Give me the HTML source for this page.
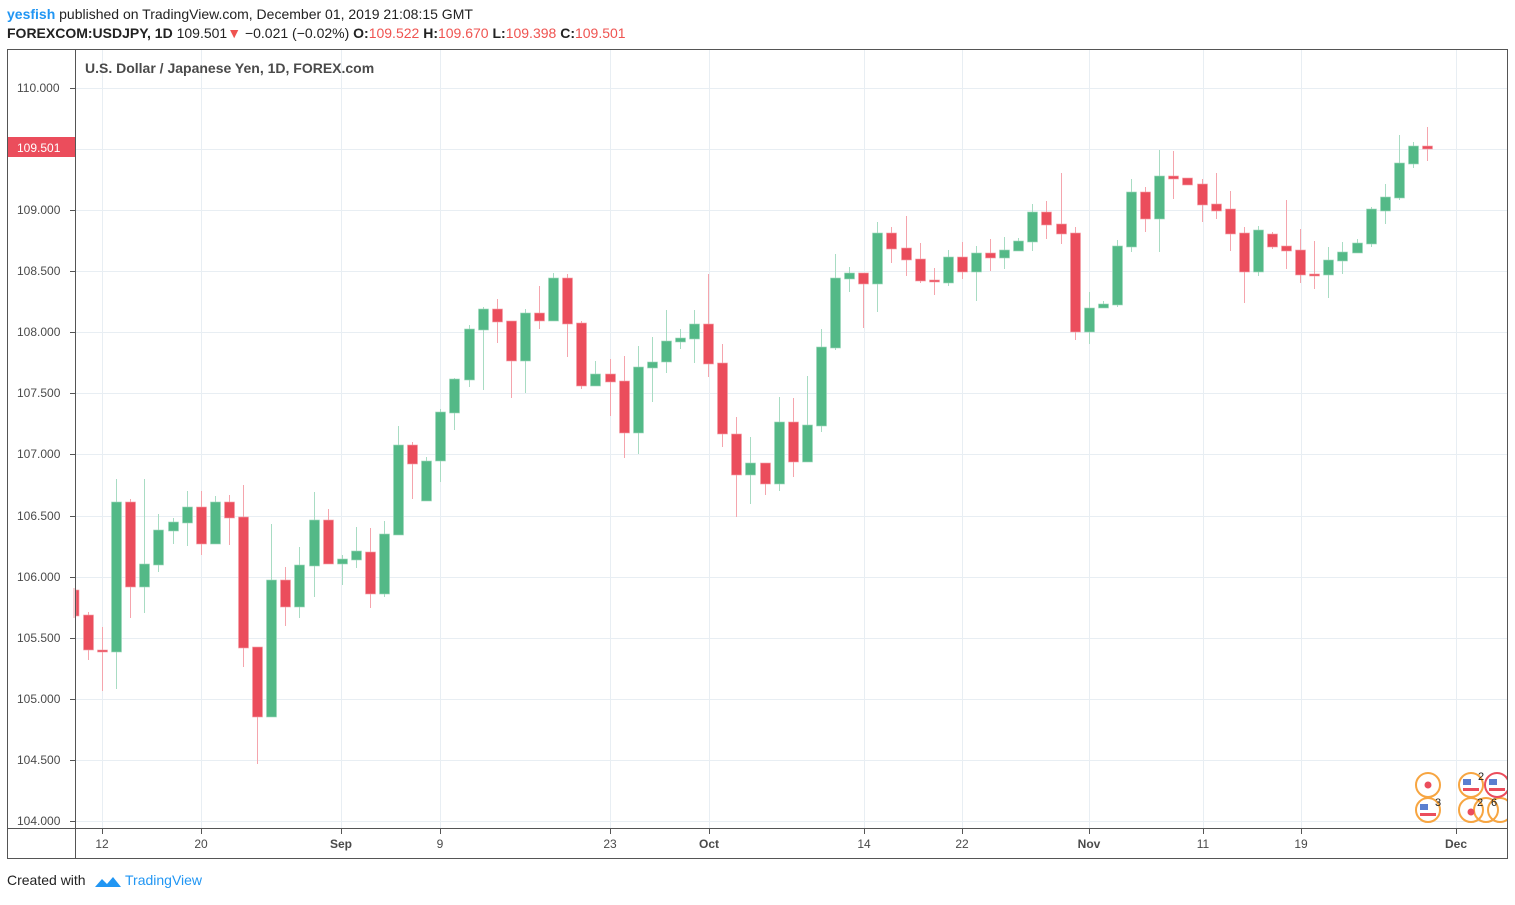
<!DOCTYPE html>
<html><head><meta charset="utf-8"><style>
body{margin:0;background:#fff;width:1515px;height:900px;overflow:hidden;font-family:"Liberation Sans",sans-serif}
</style></head><body>
<svg id="s" width="1515" height="900" xmlns="http://www.w3.org/2000/svg" font-family="Liberation Sans, sans-serif">
<defs><clipPath id="fr"><rect x="8" y="50" width="1499" height="778"/></clipPath></defs>
<rect width="1515" height="900" fill="#fff"/>
<text x="7" y="19" font-size="14" fill="#222"><tspan fill="#2196f3" font-weight="bold">yesfish</tspan> published on TradingView.com, December 01, 2019 21:08:15 GMT</text>
<text x="7" y="38" font-size="14" fill="#222"><tspan font-weight="bold">FOREXCOM:USDJPY, 1D</tspan>  109.501<tspan fill="#ef5350">▼</tspan> −0.021 (−0.02%) <tspan font-weight="bold">O:</tspan><tspan fill="#ef5350">109.522</tspan> <tspan font-weight="bold">H:</tspan><tspan fill="#ef5350">109.670</tspan> <tspan font-weight="bold">L:</tspan><tspan fill="#ef5350">109.398</tspan> <tspan font-weight="bold">C:</tspan><tspan fill="#ef5350">109.501</tspan></text>
<g id="grid" stroke="#e8eef3" stroke-width="1"></g>
<g id="c"></g>
<rect x="7.5" y="49.5" width="1500" height="809" fill="none" stroke="#555"/>
<line x1="75.5" y1="50" x2="75.5" y2="858" stroke="#555"/>
<line x1="8" y1="828.5" x2="1507" y2="828.5" stroke="#555"/>
<g id="ax" font-size="12" fill="#4a4a4a"></g>
<text x="85" y="73" font-size="14" font-weight="bold" fill="#4a4a4a">U.S. Dollar / Japanese Yen, 1D, FOREX.com</text>
<rect x="8" y="137" width="67" height="20" fill="#eb4d5c"/>
<text x="17" y="152" font-size="12" fill="#fff">109.501</text>
<g clip-path="url(#fr)">
<g fill="none" stroke="#f7a541" stroke-width="2">
<circle cx="1428" cy="785" r="12"/><circle cx="1428" cy="810" r="12"/>
<circle cx="1471" cy="785" r="12"/><circle cx="1471" cy="810" r="12"/>
<circle cx="1486" cy="810" r="12"/><circle cx="1500" cy="810" r="12"/>
<circle cx="1497" cy="785" r="12" stroke="#eb4d5c"/>
</g>
<g fill="#eb4d5c"><circle cx="1428" cy="785" r="3.5"/><circle cx="1471" cy="812" r="3.5"/></g>
<g fill="#5b7fd0"><rect x="1420" y="804" width="8" height="6"/><rect x="1463" y="779" width="8" height="6"/><rect x="1489" y="779" width="8" height="6"/></g>
<g fill="#eb4d5c"><rect x="1420" y="813" width="16" height="3"/><rect x="1463" y="788" width="16" height="3"/><rect x="1489" y="788" width="16" height="3"/></g>
<g font-size="11" fill="#222"><text x="1435" y="806">3</text><text x="1478" y="780">2</text><text x="1477" y="806">2</text><text x="1491" y="806">6</text></g>
</g>
<text x="7" y="885" font-size="14" fill="#222">Created with</text>
<path d="M95 887 l7-8 l5 5 l6-7 l8 10 z" fill="#2196f3"/>
<text x="125" y="885" font-size="14" fill="#2196f3">TradingView</text>
</svg>
<script>
const NS="http://www.w3.org/2000/svg";
function el(p,t,a){const e=document.createElementNS(NS,t);for(const k in a)e.setAttribute(k,a[k]);p.appendChild(e);return e;}
const g=document.getElementById('grid'),ax=document.getElementById('ax'),c=document.getElementById('c');
const prices=["110.000","109.500","109.000","108.500","108.000","107.500","107.000","106.500","106.000","105.500","105.000","104.500","104.000"];
prices.forEach((p,i)=>{const y=Math.round(88+i*61.08);el(g,'line',{x1:76,x2:1507,y1:y+.5,y2:y+.5});
 if(i!=1){const t=el(ax,'text',{x:17,y:y+4});t.textContent=p;}
 el(ax,'line',{x1:70,x2:75,y1:y+.5,y2:y+.5,stroke:'#555'});});
[[102,"12"],[201,"20"],[341,"Sep"],[440,"9"],[610,"23"],[709,"Oct"],[864,"14"],[962,"22"],[1089,"Nov"],[1203,"11"],[1301,"19"],[1456,"Dec"]].forEach(([x,l])=>{
 el(g,'line',{x1:x+.5,x2:x+.5,y1:50,y2:828});
 el(ax,'line',{x1:x+.5,x2:x+.5,y1:829,y2:834,stroke:'#555'});
 const t=el(ax,'text',{x:x,y:848,'text-anchor':'middle','font-weight':(isNaN(l)?'bold':'normal')});t.textContent=l;});
const D=[[615,650,612,660],[650,650,627,691],[652,502,479,689],[502,587,499,618],[587,564,479,613],[565,530,514,572],[531,522,518,544],[523,507,491,546],[507,544,491,555],[544,502,496,544],[502,518,495,545],[517,648,485,667],[647,717,647,764],[717,580,524,717],[580,607,567,626],[607,565,547,618],[566,520,492,597],[520,564,509,564],[564,559,555,585],[560,551,527,568],[552,594,528,608],[594,534,521,597],[535,445,426,535],[445,464,442,499],[501,461,457,501],[461,412,409,482],[413,379,378,430],[380,329,325,387],[330,309,307,390],[309,322,299,343],[321,361,321,398],[361,313,309,393],[313,321,286,329],[321,278,273,321],[278,324,274,357],[323,386,321,389],[386,374,361,386],[374,382,359,416],[381,433,356,458],[433,367,346,454],[368,362,337,402],[362,341,310,373],[342,338,329,349],[339,324,310,363],[324,364,274,377],[363,434,344,447],[434,475,417,517],[475,463,437,504],[463,484,463,495],[484,422,397,491],[422,462,398,477],[462,425,376,462],[426,347,329,432],[348,278,254,350],[279,273,267,292],[273,284,273,328],[284,233,222,312],[233,249,227,263],[248,260,216,276],[259,281,243,283],[280,282,268,295],[283,257,250,286],[257,272,242,279],[272,253,246,301],[253,258,239,271],[258,250,237,269],[251,241,238,251],[242,212,204,251],[212,225,201,239],[224,234,173,244],[233,332,227,340],[332,308,292,344],[308,304,301,308],[305,246,240,307],[247,192,179,252],[192,219,187,232],[219,176,150,252],[176,179,151,199],[178,185,178,185],[184,205,179,222],[204,211,173,219],[209,234,191,251],[233,272,227,303],[272,230,226,276],[234,247,232,249],[246,251,200,269],[250,275,229,283],[274,274,241,289],[275,260,247,298],[261,252,242,274],[253,243,239,253],[244,209,207,247],[211,197,184,224],[198,163,135,200],[164,146,142,168],[146,149,127,161]];
function candle(x,o,cl,h,l,clipL){const up=cl<o;const col=up?'#53b987':'#eb4d5c',wc=up?'#a8dcc3':'#f5a5ad';
 el(c,'line',{x1:x,x2:x,y1:h,y2:l,stroke:wc,'stroke-width':1});
 const top=Math.min(o,cl),ht=Math.max(2,Math.abs(o-cl));let x0=x-5,w=10;if(clipL&&x0<76){w-=76-x0;x0=76;}
 el(c,'rect',{x:x0,y:top,width:w,height:ht,fill:col,stroke:up?'#9fd8bc':'#f3a0a8','stroke-width':0.6});}
candle(74,590,616,588,618,true);
D.forEach((d,i)=>{const x=Math.round(88+i*14.095)+0.5;candle(x,d[0],d[1],d[2],d[3]);});
</script>
</body></html>
